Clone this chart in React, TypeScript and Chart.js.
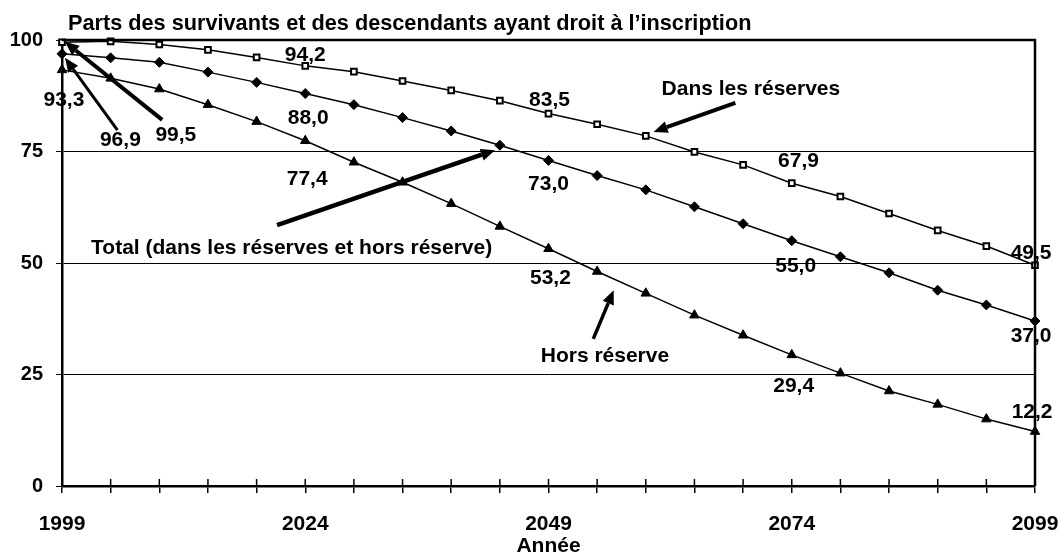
import React, { useEffect, useRef } from "react";
import { Chart, registerables } from "chart.js";

Chart.register(...registerables);

const years = [1999, 2004, 2009, 2014, 2019, 2024, 2029, 2034, 2039, 2044, 2049, 2054, 2059, 2064, 2069, 2074, 2079, 2084, 2089, 2094, 2099];
const dansReserves = [99.5, 99.7, 99.0, 97.8, 96.1, 94.2, 92.9, 90.8, 88.7, 86.4, 83.5, 81.1, 78.5, 74.9, 72.0, 67.9, 64.9, 61.1, 57.3, 53.8, 49.5];
const totalSeries = [96.9, 96.0, 95.0, 92.8, 90.5, 88.0, 85.5, 82.6, 79.6, 76.4, 73.0, 69.6, 66.4, 62.6, 58.8, 55.0, 51.4, 47.8, 43.9, 40.6, 37.0];
const horsReserve = [93.3, 91.4, 89.0, 85.5, 81.7, 77.4, 72.6, 68.1, 63.3, 58.2, 53.2, 48.1, 43.2, 38.3, 33.8, 29.4, 25.3, 21.3, 18.3, 15.0, 12.2];
const xTickLabels = ["1999", "2024", "2049", "2074", "2099"];
const yTicks = [0, 25, 50, 75, 100];

const titleText = "Parts des survivants et des descendants ayant droit à l\u2019inscription";
const xAxisTitle = "Année";

// annotation texts placed in data coordinates (year, value)
const labelTexts = ["94,2", "88,0", "77,4", "93,3", "96,9", "99,5", "83,5", "73,0", "67,9", "53,2", "55,0", "49,5", "37,0", "29,4", "12,2", "Dans les réserves", "Total (dans les réserves et hors réserve)", "Hors réserve"];
const labelYears = [2024.0, 2024.3, 2024.2, 1999.2, 2005.0, 2010.7, 2049.1, 2049.0, 2074.7, 2049.2, 2074.4, 2098.6, 2098.6, 2074.2, 2098.7, 2069.8, 2022.6, 2054.8];
const labelValues = [96.6, 82.5, 68.8, 86.5, 77.6, 78.7, 86.5, 67.7, 72.9, 46.7, 49.3, 52.2, 33.6, 22.4, 16.6, 89.0, 53.4, 29.1];

// arrows: from (year, value) to (year, value)
const arrowFromYears = [2009.3, 2004.7, 2021.1, 2068.2, 2053.6];
const arrowFromValues = [82.1, 79.8, 58.5, 85.9, 33.0];
const arrowToYears = [1999.3, 1999.3, 2043.5, 2059.8, 2055.7];
const arrowToValues = [99.6, 96.0, 75.3, 79.4, 43.9];
const arrowWidths = [4, 3, 4.5, 4, 3.5];

const FONT = "'Liberation Sans', Arial, sans-serif";

const decorPlugin = {
  id: "decor",
  afterDraw(chart: any) {
    const ctx = chart.ctx;
    const xs = chart.scales.x;
    const ys = chart.scales.y;
    const area = chart.chartArea;
    ctx.save();
    // frame top & right
    ctx.strokeStyle = "#000";
    ctx.lineWidth = 2.5;
    ctx.beginPath();
    ctx.moveTo(area.left, area.top);
    ctx.lineTo(area.right, area.top);
    ctx.lineTo(area.right, area.bottom);
    ctx.stroke();
    // x tick marks crossing the axis
    ctx.lineWidth = 1.5;
    ctx.beginPath();
    for (const y of years) {
      const px = xs.getPixelForValue(y);
      ctx.moveTo(px, area.bottom - 7);
      ctx.lineTo(px, area.bottom);
    }
    ctx.stroke();
    // title
    ctx.fillStyle = "#000";
    ctx.font = `bold 21.7px ${FONT}`;
    ctx.textAlign = "left";
    ctx.textBaseline = "alphabetic";
    ctx.fillText(titleText, 68, 30);
    // arrows
    for (let i = 0; i < arrowFromYears.length; i++) {
      const x1 = xs.getPixelForValue(arrowFromYears[i]);
      const y1 = ys.getPixelForValue(arrowFromValues[i]);
      const x2 = xs.getPixelForValue(arrowToYears[i]);
      const y2 = ys.getPixelForValue(arrowToValues[i]);
      const ang = Math.atan2(y2 - y1, x2 - x1);
      const headLen = 14;
      const headW = 6;
      const bx = x2 - headLen * Math.cos(ang);
      const by = y2 - headLen * Math.sin(ang);
      ctx.lineWidth = arrowWidths[i];
      ctx.lineCap = "butt";
      ctx.beginPath();
      ctx.moveTo(x1, y1);
      ctx.lineTo(bx, by);
      ctx.stroke();
      ctx.beginPath();
      ctx.moveTo(x2, y2);
      ctx.lineTo(bx + headW * Math.sin(ang), by - headW * Math.cos(ang));
      ctx.lineTo(bx - headW * Math.sin(ang), by + headW * Math.cos(ang));
      ctx.closePath();
      ctx.fill();
    }
    // labels
    ctx.font = `bold 21px ${FONT}`;
    ctx.textAlign = "center";
    ctx.textBaseline = "middle";
    for (let i = 0; i < labelTexts.length; i++) {
      ctx.fillText(labelTexts[i], xs.getPixelForValue(labelYears[i]), ys.getPixelForValue(labelValues[i]));
    }
    ctx.restore();
  },
};

export default function App() {
  const ref = useRef<HTMLCanvasElement>(null);
  useEffect(() => {
    document.body.style.margin = "0";
    const canvas = ref.current;
    if (!canvas) return;
    const mk = (arr: number[]) => arr.map((v, i) => ({ x: years[i], y: v }));
    const chart = new Chart(canvas, {
      type: "line",
      data: {
        datasets: [
          {
            label: "Dans les réserves",
            data: mk(dansReserves),
            borderColor: "#000",
            borderWidth: 1.5,
            pointStyle: "rect",
            pointRadius: 4,
            pointBorderWidth: 2,
            pointBackgroundColor: "#fff",
            pointBorderColor: "#000",
            clip: false,
          },
          {
            label: "Total",
            data: mk(totalSeries),
            borderColor: "#000",
            borderWidth: 1.5,
            pointStyle: "rectRot",
            pointRadius: 5,
            pointBorderWidth: 1,
            pointBackgroundColor: "#000",
            pointBorderColor: "#000",
            clip: false,
          },
          {
            label: "Hors réserve",
            data: mk(horsReserve),
            borderColor: "#000",
            borderWidth: 1.5,
            pointStyle: "triangle",
            pointRadius: 5.5,
            pointBorderWidth: 1,
            pointBackgroundColor: "#000",
            pointBorderColor: "#000",
            clip: false,
          },
        ],
      },
      options: {
        responsive: false,
        animation: false,
        events: [],
        layout: { padding: { top: 40, right: 25, left: 0, bottom: 0 } },
        plugins: { legend: { display: false }, tooltip: { enabled: false }, title: { display: false } },
        scales: {
          x: {
            type: "linear",
            min: 1999,
            max: 2099,
            afterFit: (s: any) => { s.height = 73; s.paddingLeft = 0; s.paddingRight = 0; },
            afterBuildTicks: (s: any) => { s.ticks = years.map((v) => ({ value: v })); },
            ticks: {
              autoSkip: false,
              maxRotation: 0,
              color: "#000",
              padding: 19,
              font: { family: FONT, size: 21, weight: "bold" },
              callback: (v: any) => {
                const s = String(v);
                return xTickLabels.includes(s) ? s : "";
              },
            },
            grid: { drawOnChartArea: false, drawTicks: true, tickLength: 7, color: "#000", lineWidth: 1.5 },
            border: { display: true, color: "#000", width: 2.5 },
            title: { display: true, text: xAxisTitle, color: "#000", padding: { top: 0, bottom: 0 }, font: { family: FONT, size: 21, weight: "bold" } },
          },
          y: {
            type: "linear",
            min: 0,
            max: 100,
            afterFit: (s: any) => { s.width = 62; s.paddingTop = 0; s.paddingBottom = 0; },
            afterBuildTicks: (s: any) => { s.ticks = yTicks.map((v) => ({ value: v })); },
            ticks: { color: "#000", padding: 13, font: { family: FONT, size: 20, weight: "bold" } },
            grid: { color: "#000", lineWidth: 1, tickLength: 6, drawTicks: true },
            border: { display: true, color: "#000", width: 2.5 },
          },
        },
      },
      plugins: [decorPlugin],
    } as any);
    return () => chart.destroy();
  }, []);
  return <canvas ref={ref} width={1060} height={559} style={{ display: "block" }} />;
}
